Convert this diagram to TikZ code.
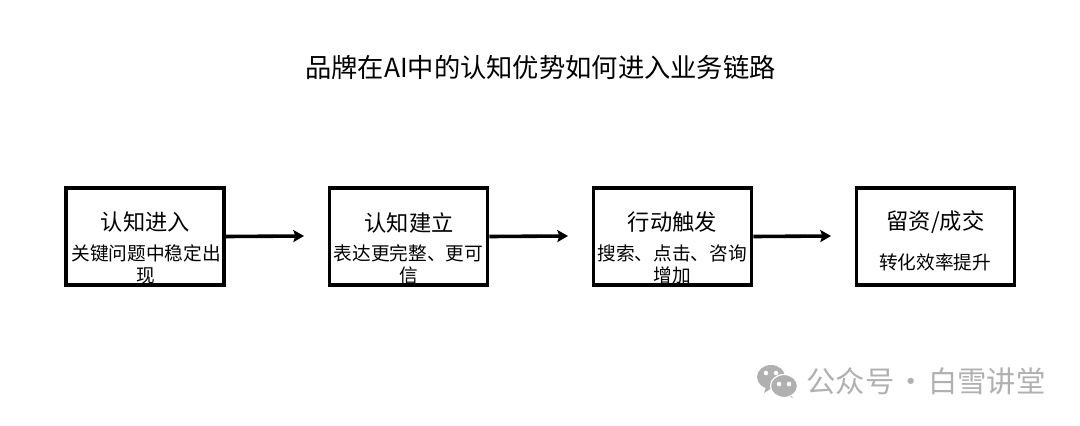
\documentclass[tikz,border=0pt]{standalone}
\usepackage{fontspec}
\usepackage{xcolor}
\usetikzlibrary{arrows.meta}
\setmainfont{Noto Sans CJK SC}
\definecolor{cmark}{rgb}{0.69,0.69,0.69}
\tikzset{
  stagebox/.style={draw=black,line width=2.7pt,minimum width=118.5pt,minimum height=72.5pt,inner sep=0pt},
  stagehead/.style={inner sep=0pt,font=\fontsize{16.7}{20}\selectfont},
  stagesub/.style={inner sep=0pt,font=\fontsize{14}{16.5}\selectfont,align=center},
  flowarrow/.style={line width=2.7pt,-{Stealth[length=8pt,width=9pt,inset=1.5pt]}},
  bubble/.style={fill=cmark,draw=white,line width=0.9pt},
  eye/.style={fill=white,circle,inner sep=0pt,minimum size=3.4pt},
}
\begin{document}
\begin{tikzpicture}[x=0.75pt,y=-0.75pt]
\useasboundingbox (0,0) rectangle (1080,425);
%
\node[inner sep=0pt,font=\fontsize{19.7}{24}\selectfont] (title) at (540.5,67) {品牌在AI中的认知优势如何进入业务链路};
%
\node[stagehead] (head1) at (145.5,222) {认知进入};
\node[stagesub] (sub1) at (146,264) {关键问题中稳定出\\现};
\node[stagehead] (head2) at (409,223) {认知建立};
\node[stagesub] (sub2) at (408.5,264) {表达更完整、更可\\信};
\node[stagehead] (head3) at (672.5,222) {行动触发};
\node[stagesub] (sub3) at (672,264) {搜索、点击、咨询\\增加};
\node[stagehead] (head4) at (935.5,222) {留资/成交};
\node[stagesub] (sub4) at (935,262) {转化效率提升};
%
\node[stagebox] (box1) at (145,236.5) {};
\node[stagebox] (box2) at (408.5,236.5) {};
\node[stagebox] (box3) at (672.5,236.5) {};
\node[stagebox] (box4) at (935.5,236.5) {};
%
\coordinate (tip1) at (304,236);
\coordinate (tip2) at (568,236);
\coordinate (tip3) at (831,236);
\draw[flowarrow] (box1.east) -- (tip1);
\draw[flowarrow] (box2.east) -- (tip2);
\draw[flowarrow] (box3.east) -- (tip3);
%
\fill[cmark] (766,387) -- (764,393) -- (772,388) -- cycle;
\fill[cmark] (771,377) ellipse (14 and 12);
\node[eye] (eye1) at (766,373) {};
\node[eye] (eye2) at (776,373) {};
\fill[cmark] (790,394) -- (793,398) -- (785,395) -- cycle;
\draw[bubble] (784,386) ellipse (13.5 and 11.5);
\node[eye] (eye3) at (779,384) {};
\node[eye] (eye4) at (789,384) {};
\node[inner sep=0pt,text=cmark,font=\fontsize{22}{26}\selectfont] (mark) at (926,381.5) {公众号 \hspace{-3.4pt}·\hspace{-3.4pt} 白雪讲堂};
%
\end{tikzpicture}
\end{document}
